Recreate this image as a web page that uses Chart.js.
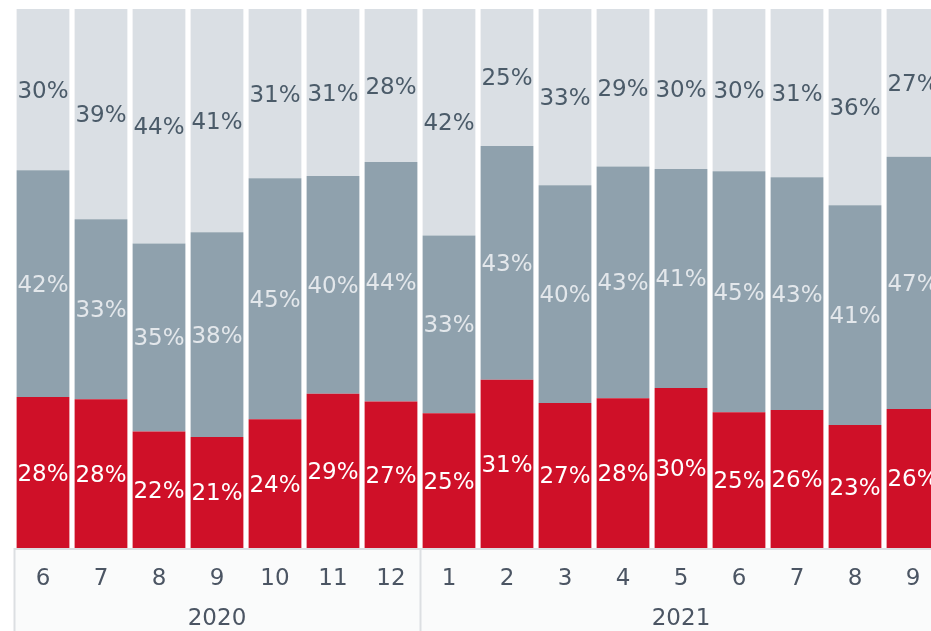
<!DOCTYPE html>
<html>
<head>
<meta charset="utf-8">
<script src="https://cdn.jsdelivr.net/npm/chart.js@4"></script>
<style>
  html, body { margin: 0; padding: 0; background: #ffffff; overflow: hidden; }
  #wrap { width: 942px; height: 631px; position: relative; }
</style>
</head>
<body>
<div id="wrap"><canvas id="chart"></canvas></div>
<script>
// categories
const months = ["6", "7", "8", "9", "10", "11", "12", "1", "2", "3", "4", "5", "6", "7", "8", "9"];
const years = ["2020", "2021"];
const yearStart = [0, 7]; // first month index of each year

// shares per month (%), bottom to top
const redShare = [28.0, 27.6, 21.6, 20.6, 23.9, 28.6, 27.2, 25.0, 31.2, 26.9, 27.8, 29.7, 25.2, 25.6, 22.8, 25.8];
const midShare = [42.1, 33.4, 34.9, 38.0, 44.7, 40.4, 44.4, 33.0, 43.4, 40.4, 43.0, 40.6, 44.7, 43.2, 40.8, 46.8];
const topShare = [29.9, 39.0, 43.5, 41.4, 31.4, 31.0, 28.4, 42.0, 25.4, 32.7, 29.2, 29.7, 30.1, 31.2, 36.4, 27.4];

const fontFamily = "'DejaVu Sans', Verdana, sans-serif";
const labelFont = "23px " + fontFamily;
const textColors = ["#ffffff", "#e3e7eb", "#4b5b69"];

// labels in the middle of every segment
const segmentLabels = {
  id: "segmentLabels",
  afterDatasetsDraw(chart) {
    let ctx = chart.ctx;
    ctx.save();
    ctx.font = labelFont;
    ctx.textAlign = "center";
    ctx.textBaseline = "middle";
    chart.data.datasets.forEach((ds, i) => {
      let meta = chart.getDatasetMeta(i);
      meta.data.forEach((bar, j) => {
        ctx.fillStyle = textColors[i];
        ctx.fillText(Math.round(ds.data[j]) + "%", bar.x, (bar.y + bar.base) / 2 + 2);
      });
    });
    ctx.restore();
  }
};

// axis band: background, borders, year row
const yearAxis = {
  id: "yearAxis",
  beforeDraw(chart) {
    let ctx = chart.ctx;
    let area = chart.chartArea;
    ctx.save();
    ctx.fillStyle = "#fafbfb";
    ctx.fillRect(area.left, area.bottom, chart.width - area.left, chart.height - area.bottom);
    ctx.restore();
  },
  afterDraw(chart) {
    let ctx = chart.ctx;
    let x = chart.scales.x;
    let area = chart.chartArea;
    let slot = (x.getPixelForValue(1) - x.getPixelForValue(0));
    ctx.save();
    ctx.strokeStyle = "#dcdfe2";
    ctx.lineWidth = 2;
    ctx.beginPath();
    ctx.moveTo(area.left, area.bottom + 1);
    ctx.lineTo(chart.width, area.bottom + 1);
    ctx.stroke();
    ctx.font = labelFont;
    ctx.fillStyle = "#4b5563";
    ctx.textAlign = "center";
    ctx.textBaseline = "middle";
    years.forEach((yr, k) => {
      let first = yearStart[k];
      let last = k + 1 < yearStart.length ? yearStart[k + 1] - 1 : months.length - 1;
      let left = x.getPixelForValue(first) - slot / 2;
      let right = x.getPixelForValue(last) + slot / 2;
      ctx.beginPath();
      ctx.moveTo(Math.round(left) + 0.5, area.bottom);
      ctx.lineTo(Math.round(left) + 0.5, chart.height);
      ctx.stroke();
      ctx.fillText(yr, (left + right) / 2, area.bottom + 71);
    });
    ctx.restore();
  }
};

new Chart(document.getElementById("chart"), {
  type: "bar",
  data: {
    labels: months,
    datasets: [
      { label: "a", data: redShare, backgroundColor: "#cf1028" },
      { label: "b", data: midShare, backgroundColor: "#8fa1ad" },
      { label: "c", data: topShare, backgroundColor: "#dadfe4" }
    ]
  },
  options: {
    responsive: true,
    maintainAspectRatio: false,
    animation: false,
    layout: { padding: { left: 14, top: 9, right: 0, bottom: 0 } },
    datasets: { bar: { barPercentage: 0.91, categoryPercentage: 1 } },
    plugins: { legend: { display: false }, tooltip: { enabled: false } },
    scales: {
      x: {
        stacked: true,
        offset: true,
        grid: { display: false },
        border: { display: false },
        ticks: {
          color: "#4b5563",
          font: { family: fontFamily, size: 23 },
          padding: 9,
          maxRotation: 0,
          autoSkip: false
        },
        afterFit(scale) { scale.height = 83; }
      },
      y: {
        stacked: true,
        display: false,
        min: 0,
        max: 100
      }
    }
  },
  plugins: [segmentLabels, yearAxis]
});
</script>
</body>
</html>
